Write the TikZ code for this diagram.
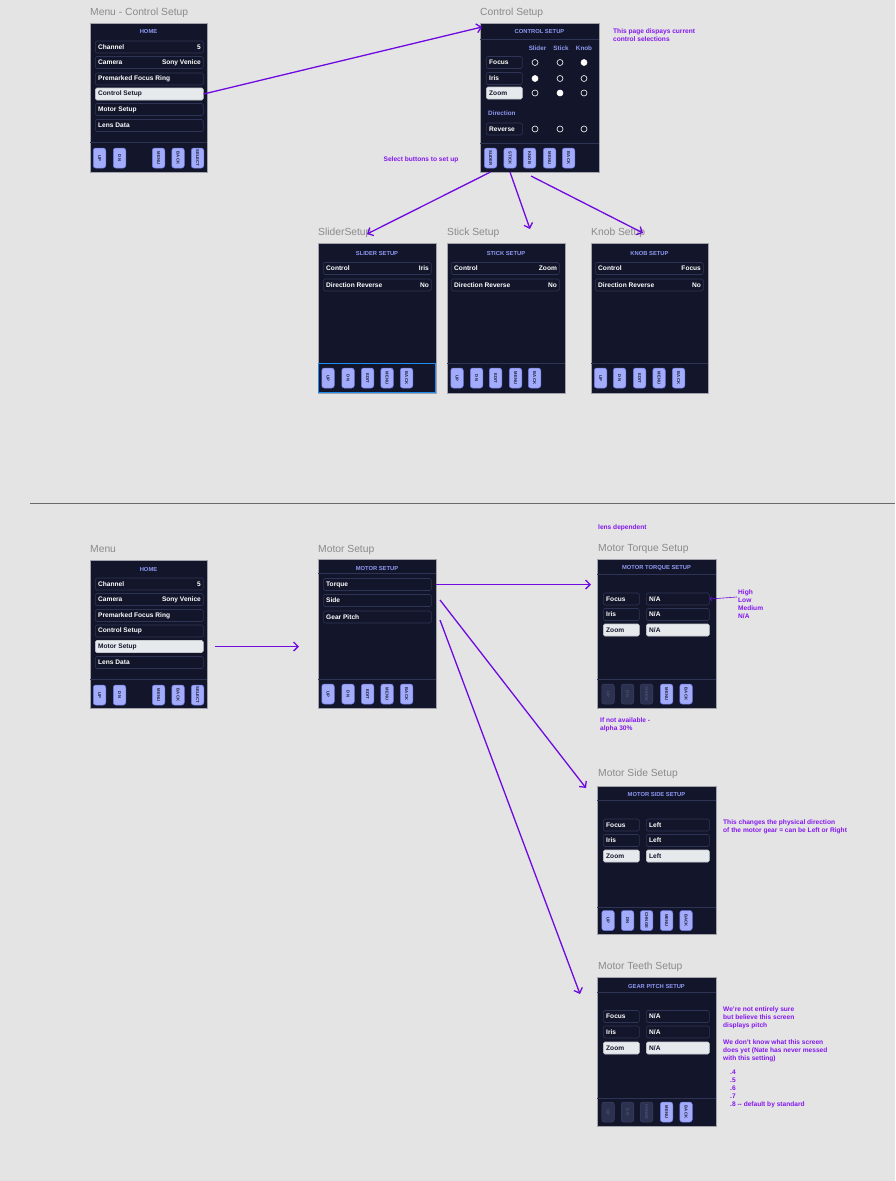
\documentclass[tikz,border=0pt]{standalone}
\usepackage{fontspec}
\setmainfont{Liberation Sans}
\usetikzlibrary{arrows.meta}
\definecolor{bgc}{HTML}{E4E4E4}
\definecolor{scr}{HTML}{13162A}
\definecolor{scredge}{HTML}{A2A2AA}
\definecolor{rowedge}{HTML}{2E3456}
\definecolor{hl}{HTML}{E7EAED}
\definecolor{hledge}{HTML}{C4C8CE}
\definecolor{hdr}{HTML}{8E98F2}
\definecolor{btn}{HTML}{A3ACFA}
\definecolor{btnedge}{HTML}{6C78E6}
\definecolor{btntxt}{HTML}{1A1D38}
\definecolor{dimbtn}{HTML}{2C3150}
\definecolor{dimedge}{HTML}{3A4064}
\definecolor{dimtxt}{HTML}{4B5175}
\definecolor{purp}{HTML}{6F0AE0}
\definecolor{notec}{HTML}{8416EE}
\definecolor{ttlc}{HTML}{8A8A8A}
\definecolor{selblue}{HTML}{1E8CF0}
\definecolor{sepc}{HTML}{6A6A6A}
\tikzset{
 screen/.style={draw=scredge, fill=scr, line width=0.7pt, anchor=north west, inner sep=0pt, outer sep=0pt},
 boxn/.style={draw=rowedge, fill=scr, line width=0.6pt, rounded corners=1.5pt, minimum height=12pt, inner sep=0pt},
 boxh/.style={draw=hledge, fill=hl, line width=0.6pt, rounded corners=1.5pt, minimum height=12pt, inner sep=0pt},
 txtn/.style={font=\bfseries\fontsize{6.6}{7}\selectfont, text=white, inner sep=0pt},
 txth/.style={font=\bfseries\fontsize{6.6}{7}\selectfont, text=scr, inner sep=0pt},
 hdrtxt/.style={font=\bfseries\fontsize{5.8}{7}\selectfont, text=hdr, inner sep=0pt},
 colhd/.style={font=\bfseries\fontsize{6.3}{7}\selectfont, text=hdr, inner sep=0pt},
 divl/.style={draw=rowedge, line width=0.6pt},
 btna/.style={draw=btnedge, fill=btn, text=btntxt, rounded corners=2.5pt, line width=0.5pt, rotate=-90, minimum width=20pt, minimum height=12.5pt, inner sep=0pt, font=\bfseries\fontsize{4.2}{5}\selectfont},
 btnd/.style={btna, draw=dimedge, fill=dimbtn, text=dimtxt},
 ttl/.style={font=\fontsize{10.3}{12}\selectfont, text=ttlc, anchor=base west, inner sep=0pt},
 note/.style={font=\bfseries\fontsize{6.6}{8}\selectfont, text=notec, align=left, anchor=north west, inner sep=0pt},
 arr/.style={draw=purp, line width=1.3pt, -{Straight Barb[length=4.5pt,width=9pt]}},
 circ/.style={circle, draw=white, line width=0.6pt, minimum size=6pt, inner sep=0pt},
 circf/.style={circ, fill=white},
}
\newcommand\rowlv[7]{%
 \node[box#5, minimum width=#4pt, anchor=west] (#1) at (#2,#3) {};
 \node[txt#5, anchor=west] at ([xshift=3pt]#1.west) {#6};
 \node[txt#5, anchor=east] at ([xshift=-2.5pt]#1.east) {#7};}
\newcommand\bt[5]{\node[btn#5] (#1) at (#2,#3) {#4};}
\begin{document}
\begin{tikzpicture}[x=1pt,y=-1pt]
\fill[bgc] (0,0) rectangle (895,1181);
\useasboundingbox (0,0) rectangle (895,1181);

% ---------- top menu
\node[ttl] (t1) at (90,15) {Menu - Control Setup};
\node[screen, minimum width=117pt, minimum height=149pt] (m1) at (90,23) {};
\node[hdrtxt] (m1h) at (148.5,32) {HOME};
\rowlv{m1r1}{95}{47}{108}{n}{Channel}{5}
\rowlv{m1r2}{95}{62.5}{108}{n}{Camera}{Sony Venice}
\rowlv{m1r3}{95}{79}{108}{n}{Premarked Focus Ring}{}
\rowlv{m1r4}{95}{94}{108}{h}{Control Setup}{}
\rowlv{m1r5}{95}{109.5}{108}{n}{Motor Setup}{}
\rowlv{m1r6}{95}{125.5}{108}{n}{Lens Data}{}
\draw[divl] (90,142) -- (207,142);
\bt{m1b1}{99.5}{158}{UP}{a}
\bt{m1b2}{119.5}{158}{DN}{a}
\bt{m1b3}{158.5}{158}{MENU}{a}
\bt{m1b4}{178}{158}{BACK}{a}
\bt{m1b5}{197.5}{158}{SELECT}{a}

% ---------- control setup
\node[ttl] (t2) at (480,15) {Control Setup};
\node[screen, minimum width=119pt, minimum height=149pt] (cs) at (480,23) {};
\node[hdrtxt] (csh) at (539.5,32) {CONTROL SETUP};
\draw[divl] (480,39) -- (599,39);
\node[colhd] (cc1) at (537.5,48) {Slider};
\node[colhd] (cc2) at (561,48) {Stick};
\node[colhd] (cc3) at (584,48) {Knob};
\rowlv{csr1}{486}{62.5}{36}{n}{Focus}{}
\rowlv{csr2}{486}{78.5}{36}{n}{Iris}{}
\rowlv{csr3}{486}{93}{36}{h}{Zoom}{}
\node[colhd, anchor=west] (csd) at (488,113) {Direction};
\rowlv{csr4}{486}{129}{36}{n}{Reverse}{}
\node[circ] (k11) at (535,62.5) {};
\node[circ] (k12) at (560,62.5) {};
\node[circf] (k13) at (584,62.5) {};
\node[circf] (k21) at (535,78.5) {};
\node[circ] (k22) at (560,78.5) {};
\node[circ] (k23) at (584,78.5) {};
\node[circ] (k31) at (535,93) {};
\node[circf] (k32) at (560,93) {};
\node[circ] (k33) at (584,93) {};
\node[circ] (k41) at (535,129) {};
\node[circ] (k42) at (560,129) {};
\node[circ] (k43) at (584,129) {};
\draw[divl] (480,143) -- (599,143);
\bt{csb1}{490.5}{158}{SLIDER}{a}
\bt{csb2}{510}{158}{STICK}{a}
\bt{csb3}{529.5}{158}{KNOB}{a}
\bt{csb4}{549.5}{158}{MENU}{a}
\bt{csb5}{568.5}{158}{BACK}{a}
\node[note] (n1) at (613,28.5) {This page dispays current\\control selections};
\node[note, anchor=center] (n2) at (421,160) {Select buttons to set up};

% ---------- slider / stick / knob
\node[ttl] (t3) at (318,235) {SliderSetup};
\node[ttl] (t4) at (447,235) {Stick Setup};
\node[ttl] (t5) at (591,235) {Knob Setup};

\node[screen, minimum width=118pt, minimum height=150pt] (ss) at (318,243) {};
\node[hdrtxt] (ssh) at (377,253) {SLIDER SETUP};
\rowlv{ssr1}{323}{268.5}{108}{n}{Control}{Iris}
\rowlv{ssr2}{323}{285}{108}{n}{Direction Reverse}{No}
\draw[divl] (318,363) -- (436,363);
\bt{ssb1}{328}{378}{UP}{a}
\bt{ssb2}{348}{378}{DN}{a}
\bt{ssb3}{367.5}{378}{EDIT}{a}
\bt{ssb4}{387}{378}{MENU}{a}
\bt{ssb5}{406.5}{378}{BACK}{a}
\draw[selblue, line width=1.5pt] (318.5,363.5) rectangle (435.5,392.5);

\node[screen, minimum width=118pt, minimum height=150pt] (st) at (447,243) {};
\node[hdrtxt] (sth) at (506,253) {STICK SETUP};
\rowlv{str1}{451}{268.5}{108}{n}{Control}{Zoom}
\rowlv{str2}{451}{285}{108}{n}{Direction Reverse}{No}
\draw[divl] (447,363) -- (565,363);
\bt{stb1}{457}{378}{UP}{a}
\bt{stb2}{476.5}{378}{DN}{a}
\bt{stb3}{495.5}{378}{EDIT}{a}
\bt{stb4}{515.5}{378}{MENU}{a}
\bt{stb5}{534.5}{378}{BACK}{a}

\node[screen, minimum width=117pt, minimum height=150pt] (kn) at (591,243) {};
\node[hdrtxt] (knh) at (649.5,253) {KNOB SETUP};
\rowlv{knr1}{595}{268.5}{108}{n}{Control}{Focus}
\rowlv{knr2}{595}{285}{108}{n}{Direction Reverse}{No}
\draw[divl] (591,363) -- (708,363);
\bt{knb1}{600.5}{378}{UP}{a}
\bt{knb2}{619.5}{378}{DN}{a}
\bt{knb3}{639.5}{378}{EDIT}{a}
\bt{knb4}{659}{378}{MENU}{a}
\bt{knb5}{678.5}{378}{BACK}{a}

% ---------- separator
\draw[sepc, line width=1pt] (30,503) -- (895,503);

% ---------- bottom menu
\node[ttl] (t6) at (90,552) {Menu};
\node[screen, minimum width=117pt, minimum height=148pt] (m2) at (90,560) {};
\node[hdrtxt] (m2h) at (148.5,569) {HOME};
\rowlv{m2r1}{95}{584}{108}{n}{Channel}{5}
\rowlv{m2r2}{95}{599.5}{108}{n}{Camera}{Sony Venice}
\rowlv{m2r3}{95}{615.5}{108}{n}{Premarked Focus Ring}{}
\rowlv{m2r4}{95}{631}{108}{n}{Control Setup}{}
\rowlv{m2r5}{95}{646.5}{108}{h}{Motor Setup}{}
\rowlv{m2r6}{95}{662.5}{108}{n}{Lens Data}{}
\draw[divl] (90,679) -- (207,679);
\bt{m2b1}{99.5}{695}{UP}{a}
\bt{m2b2}{119.5}{695}{DN}{a}
\bt{m2b3}{158.5}{695}{MENU}{a}
\bt{m2b4}{178}{695}{BACK}{a}
\bt{m2b5}{197.5}{695}{SELECT}{a}

% ---------- motor setup
\node[ttl] (t7) at (318,552) {Motor Setup};
\node[screen, minimum width=118pt, minimum height=149pt] (ms) at (318,559) {};
\node[hdrtxt] (msh) at (377,568) {MOTOR SETUP};
\draw[divl] (318,573) -- (436,573);
\rowlv{msr1}{323}{584.5}{108}{n}{Torque}{}
\rowlv{msr2}{323}{600.5}{108}{n}{Side}{}
\rowlv{msr3}{323}{617}{108}{n}{Gear Pitch}{}
\draw[divl] (318,679) -- (436,679);
\bt{msb1}{328}{694}{UP}{a}
\bt{msb2}{348}{694}{DN}{a}
\bt{msb3}{367.5}{694}{EDIT}{a}
\bt{msb4}{387}{694}{MENU}{a}
\bt{msb5}{406.5}{694}{BACK}{a}

% ---------- motor torque
\node[note, anchor=west] (n3) at (598,528) {lens dependent};
\node[ttl] (t8) at (598,551) {Motor Torque Setup};
\node[screen, minimum width=119pt, minimum height=149pt] (mt) at (597,559) {};
\node[hdrtxt] (mth) at (656.5,568) {MOTOR TORQUE SETUP};
\draw[divl] (597,574) -- (716,574);
\rowlv{mtl1}{603}{599}{36}{n}{Focus}{}
\rowlv{mtv1}{646}{599}{63}{n}{N/A}{}
\rowlv{mtl2}{603}{614.5}{36}{n}{Iris}{}
\rowlv{mtv2}{646}{614.5}{63}{n}{N/A}{}
\rowlv{mtl3}{603}{630}{36}{h}{Zoom}{}
\rowlv{mtv3}{646}{630}{63}{h}{N/A}{}
\draw[divl] (597,679) -- (716,679);
\bt{mtb1}{608}{694}{UP}{d}
\bt{mtb2}{627.5}{694}{DN}{d}
\bt{mtb3}{646.5}{694}{CHNGE}{d}
\bt{mtb4}{666.5}{694}{MENU}{a}
\bt{mtb5}{686}{694}{BACK}{a}
\node[note] (n4) at (738,590) {High\\Low\\Medium\\N/A};
\node[note] (n5) at (600,718) {If not available -\\alpha 30\%};

% ---------- motor side
\node[ttl] (t9) at (598,776) {Motor Side Setup};
\node[screen, minimum width=119pt, minimum height=148pt] (sd) at (597,786) {};
\node[hdrtxt] (sdh) at (656.5,794) {MOTOR SIDE SETUP};
\draw[divl] (597,800) -- (716,800);
\rowlv{sdl1}{603}{825}{36}{n}{Focus}{}
\rowlv{sdv1}{646}{825}{63}{n}{Left}{}
\rowlv{sdl2}{603}{840.5}{36}{n}{Iris}{}
\rowlv{sdv2}{646}{840.5}{63}{n}{Left}{}
\rowlv{sdl3}{603}{856}{36}{h}{Zoom}{}
\rowlv{sdv3}{646}{856}{63}{h}{Left}{}
\draw[divl] (597,907) -- (716,907);
\bt{sdb1}{608}{920.5}{UP}{a}
\bt{sdb2}{627.5}{920.5}{DN}{a}
\bt{sdb3}{646.5}{920.5}{CHNGE}{a}
\bt{sdb4}{666.5}{920.5}{MENU}{a}
\bt{sdb5}{686}{920.5}{BACK}{a}
\node[note] (n6) at (723,820) {This changes the physical direction\\of the motor gear = can be Left or Right};

% ---------- gear pitch
\node[ttl] (t10) at (598,969) {Motor Teeth Setup};
\node[screen, minimum width=119pt, minimum height=149pt] (gp) at (597,977) {};
\node[hdrtxt] (gph) at (656.5,986) {GEAR PITCH SETUP};
\draw[divl] (597,992) -- (716,992);
\rowlv{gpl1}{603}{1016.5}{36}{n}{Focus}{}
\rowlv{gpv1}{646}{1016.5}{63}{n}{N/A}{}
\rowlv{gpl2}{603}{1032}{36}{n}{Iris}{}
\rowlv{gpv2}{646}{1032}{63}{n}{N/A}{}
\rowlv{gpl3}{603}{1048}{36}{h}{Zoom}{}
\rowlv{gpv3}{646}{1048}{63}{h}{N/A}{}
\draw[divl] (597,1098) -- (716,1098);
\bt{gpb1}{608}{1112}{UP}{d}
\bt{gpb2}{627.5}{1112}{DN}{d}
\bt{gpb3}{646.5}{1112}{CHNGE}{d}
\bt{gpb4}{666.5}{1112}{MENU}{a}
\bt{gpb5}{686}{1112}{BACK}{a}
\node[note] (n7) at (723,1007) {We're not entirely sure\\but believe this screen\\displays pitch\\[9pt]We don't know what this screen\\does yet (Nate has never messed\\with this setting)};
\node[note] (n8) at (730,1070) {.4\\.5\\.6\\.7\\.8 -{}- default by standard};

% ---------- connectors
\coordinate (e1) at (482,27);
\coordinate (e2) at (367,234);
\coordinate (e3) at (530,229);
\coordinate (s4) at (531,176);
\coordinate (e4) at (643,233);
\coordinate (s5) at (215,646.5);
\coordinate (e5) at (299,646.5);
\coordinate (e6) at (591,584.5);
\coordinate (s7) at (440,600);
\coordinate (e7) at (586,788);
\coordinate (s8) at (440,620);
\coordinate (e8) at (580,994);
\coordinate (s9) at (737,597);
\draw[arr] (m1r4.east) -- (e1);
\draw[arr] (csb1 |- cs.south) -- (e2);
\draw[arr] (csb2 |- cs.south) -- (e3);
\draw[arr] (s4) -- (e4);
\draw[arr] (s5) -- (e5);
\draw[arr] (ms.east |- msr1) -- (e6);
\draw[arr] (s7) -- (e7);
\draw[arr] (s8) -- (e8);
\draw[purp, line width=0.6pt, -{Straight Barb[length=2pt,width=4pt]}] (s9) -- (mtv1.east);
\end{tikzpicture}
\end{document}
